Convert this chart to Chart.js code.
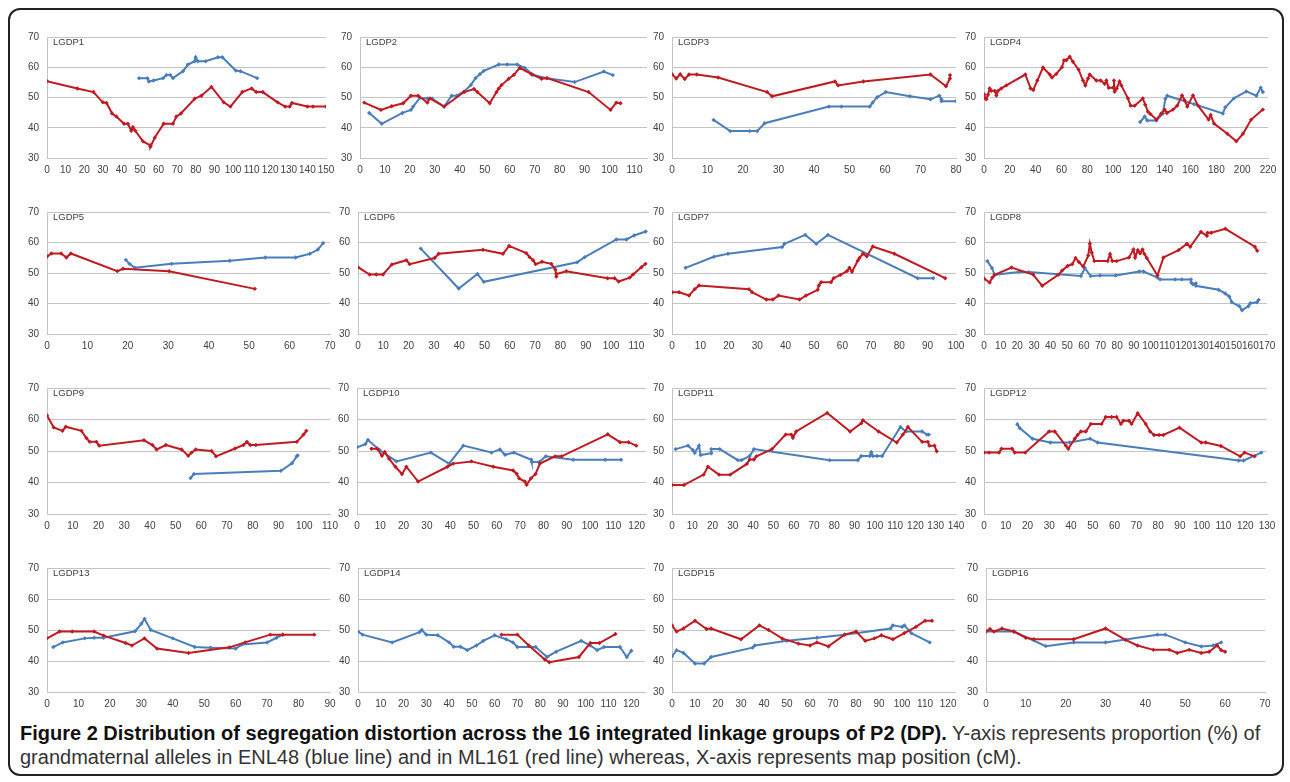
<!DOCTYPE html>
<html><head><meta charset="utf-8">
<script src="https://cdn.jsdelivr.net/npm/chart.js@4.4.0/dist/chart.umd.min.js"></script>
<style>
html,body{margin:0;padding:0;background:#fff;width:1290px;height:782px;overflow:hidden;}
#frame{position:absolute;left:8px;top:8px;width:1276px;height:768px;border:2px solid #222;border-radius:12px;box-sizing:border-box;}
.lbl{position:absolute;font:9.5px "Liberation Sans",Arial,sans-serif;color:#404040;white-space:nowrap;}
#cap{position:absolute;left:20px;top:721px;font:20px "Liberation Sans",Arial,sans-serif;color:#333;white-space:nowrap;line-height:24px;}
#cap b{color:#111;}
</style></head><body>
<div id="frame"></div>
<div id="cap"><b>Figure 2 Distribution of segregation distortion across the 16 integrated linkage groups of P2 (DP).</b> Y-axis represents proportion (%) of<br>grandmaternal alleles in ENL48 (blue line) and in ML161 (red line) whereas, X-axis represents map position (cM).</div>
<script>
// ---------- DATA ----------
const panelNames = ['LGDP1','LGDP2','LGDP3','LGDP4','LGDP5','LGDP6','LGDP7','LGDP8','LGDP9','LGDP10','LGDP11','LGDP12','LGDP13','LGDP14','LGDP15','LGDP16'];
const xMax = [150,115,80,220,70,115,100,170,110,124,140,130,90,126,123,70];
const xStep = [10,10,10,20,10,10,10,10,10,10,10,10,10,10,10,10];
const yTicks = [30,40,50,60,70];

const lg1Red = [[0,55.4],[16.3,53],[25,51.8],[30,48.4],[32,48.2],[35,44.7],[37.3,43.7],[41.4,41.3],[43.5,41.3],[45.3,39],[46.2,40.2],[47.5,39],[51.6,35.5],[55.6,34.2],[55.6,33.7],[57.9,36.7],[62.7,41.3],[67.7,41.3],[69.5,43.7],[72,44.7],[79.4,49.6],[83,50.6],[88.4,53.5],[95,48.4],[98.6,47],[105,51.8],[110,53],[112.5,51.8],[116,51.8],[124,48.4],[128,47],[130.5,47],[131.7,48.2],[140,47],[143,47],[150,47]];
const lg1Blue = [[49.5,56.4],[54,56.4],[54.8,55.3],[57.3,55.6],[62.4,56.4],[64.2,57.4],[66.3,57.4],[67.7,56.4],[73.1,58.7],[75.8,60.9],[79.4,62],[79.9,63.3],[81.1,62],[85.3,62],[91.9,63.3],[94.3,63.3],[101.5,58.9],[104,58.7],[113,56.4]];

const lg2Red = [[1.7,48.3],[8.4,45.9],[12.7,47.1],[17.3,48.1],[20.4,50.6],[23.3,50.6],[27,48.3],[28,49.7],[33.7,47],[41.7,51.8],[45.7,52.8],[47,51.8],[52,48.1],[54.7,51.8],[55.6,53],[56.7,54.1],[59.6,56.2],[61.7,57.5],[64,59.8],[68.7,57.7],[72.7,56.2],[75,56.4],[91.6,51.8],[100.4,45.9],[102.7,48.3],[104.4,48.1]];
const lg2Blue = [[3.7,44.9],[8.7,41.3],[17,44.9],[20.4,45.9],[21.3,47],[24,49.9],[27,49.7],[28.9,49.7],[33.7,47],[36.7,50.6],[38.7,50.6],[41.7,52],[44.4,54.1],[46.3,56.4],[48,57.7],[49.6,58.8],[55.6,60.9],[59,60.9],[63,60.9],[66,59.8],[69.3,57.5],[74.7,56.4],[86,55.1],[97.7,58.6],[101.3,57.4]];

const lg3Red = [[0,57.7],[1.2,56.3],[2.3,57.7],[3.6,56.1],[4.8,57.6],[7,57.6],[13,56.6],[26.8,51.8],[28.2,50.4],[45.9,55.3],[46.8,54],[53.9,55.3],[72.8,57.6],[77.2,53.7],[78.3,56.3],[78.3,57.4]];
const lg3Blue = [[11.7,42.6],[16.4,38.9],[21.9,38.9],[24,38.9],[26.1,41.5],[44.2,47],[47.7,47],[55.7,47],[56.5,48.3],[57.8,50.1],[60.2,51.8],[67,50.4],[72.8,49.4],[75.3,50.6],[75.9,49.4],[75.9,48.8],[80,48.8]];

const lg4Red = [[0,51.1],[0.5,49.9],[1.8,49.4],[3.1,50.9],[4.4,53],[5.7,52.2],[8.3,52.2],[9.6,50.7],[10.8,52.2],[13.4,53],[17.3,54],[32,57.6],[36.1,53],[38.2,52.5],[41.3,55.6],[45.7,59.9],[50.9,57.6],[52.7,56.6],[56,57.8],[60.4,60],[62,62.3],[63.8,62.3],[66.4,63.5],[68.9,61.8],[73.3,59.2],[76.7,55.6],[78.5,54],[80.6,56.3],[81.9,57.6],[87,55.6],[90.4,55.6],[93.5,54.5],[94.8,55.6],[96.6,53.2],[100,53.2],[100.7,55.6],[101.2,52],[102.8,53],[105,55.3],[106.4,54],[111.5,49.7],[113.6,47.3],[116.7,47.3],[123,49.7],[124.9,47.6],[127,45.3],[129,44.5],[133.5,42.7],[137.3,44.7],[139.9,46],[141.7,44.9],[146.4,46],[149.7,47.3],[153.4,50.7],[155.4,49.1],[157.5,47],[161.9,50.7],[165.8,47.3],[174,42.7],[175.6,44.2],[178.2,41.4],[188.5,38],[195.5,35.5],[200.6,38],[207,42.7],[216,46]];
const lg4Blue = [[121,41.9],[124.5,43.7],[126.5,42.4],[133.5,42.4],[138.6,44.7],[140.5,49.6],[142,50.6],[162.7,47.8],[185,44.7],[186.9,46.8],[193.6,49.7],[203.2,52],[211,50.6],[214.3,53.2],[216,51.8]];

const lg5Red = [[0,55.4],[1.1,56.4],[3.5,56.4],[4.8,55.1],[5.9,56.4],[17.4,50.6],[18.8,51.4],[30.2,50.6],[51.4,44.8]];
const lg5Blue = [[19.5,54.3],[20.4,53],[21.7,51.7],[30.8,53],[45.2,54],[54,55.1],[61.5,55.1],[65,56.3],[67,57.7],[68.3,59.8]];

const lg6Red = [[0,51.9],[4.6,49.5],[7.2,49.5],[9.9,49.5],[13.4,52.8],[19.1,54.2],[20.4,52.9],[30.3,54.9],[31.9,56.3],[49.4,57.6],[57.3,56.3],[59.7,58.9],[66.5,56.5],[67.8,55.2],[69.2,54.2],[70.2,52.9],[72.7,53.7],[76.4,53],[78,51.1],[78.4,48.8],[78.4,49.7],[82.3,50.6],[98.6,48.3],[101.4,48.3],[103,47.2],[107.4,48.5],[108.7,49.5],[112,51.9],[113.6,53]];
const lg6Blue = [[24.8,58],[39.8,44.9],[47.2,49.7],[49.7,47.1],[86.6,53.5],[89.6,55.2],[102.1,61],[106.1,61],[109.1,62.3],[113.7,63.6]];

const lg7Red = [[0,43.7],[2.5,43.7],[6,42.6],[8,44.7],[9.5,45.9],[27.1,44.7],[28.2,43.7],[33.2,41.3],[35.5,41.3],[37.5,42.6],[44.9,41.3],[47.2,42.6],[51.3,44.5],[51.7,45.9],[52.5,47],[56,47],[56.9,48.3],[59.3,49.4],[61.6,50.6],[62.5,51.7],[63.4,50.4],[65.4,54],[66,54.9],[67.2,56.3],[68.6,55.5],[70.7,58.7],[78.3,56.3],[96.2,48.3]];
const lg7Blue = [[4.8,51.7],[14.7,55.3],[19.7,56.3],[38.8,58.5],[39.6,59.6],[46.9,62.5],[50.8,59.6],[54.9,62.5],[86.5,48.3],[92,48.3]];

const lg8Red = [[0,48.2],[3.4,46.9],[5,48.5],[6.4,49.4],[16.5,51.8],[29.5,49.5],[35,45.8],[44.6,49.4],[47,50.8],[50.2,52.3],[53,52.9],[55,54.9],[57,53.6],[59.6,52.1],[62.6,55.7],[63.6,59.6],[64.7,56.7],[66.3,53.9],[74.3,53.9],[75.7,56.2],[77.1,53.9],[79.7,53.9],[87.1,55.1],[89.8,57.7],[90.8,55.1],[92.4,57.5],[93.8,56.5],[95.2,57.7],[96.4,56.2],[97.8,54.9],[104.2,49.2],[107.8,55.1],[116.9,57.5],[121.9,59.6],[123.9,58.6],[130.3,63.5],[133.9,62.2],[134.3,63.2],[136.5,63.2],[145,64.5],[162.7,58.6],[164.1,57.3]];
const lg8Blue = [[2,53.9],[4.8,51.6],[6.4,49.4],[20.9,50.3],[26.9,50.3],[58.2,49],[60.6,51.6],[64.1,49],[69.7,49.2],[79.1,49.2],[93.2,50.5],[95.8,50.5],[104.2,48.5],[105.8,47.9],[114.8,47.9],[118.9,47.9],[124.3,47.9],[124.5,46.9],[125.5,46.3],[127.3,46.6],[127.3,45.8],[140.9,44.5],[144.9,43.3],[147.3,42.3],[148.9,40.4],[153.4,39.1],[155,37.8],[158.8,39.1],[160,40.1],[164,40.4],[165,41.2]];

const lg9Red = [[0,61.3],[2.6,57.5],[6,56.4],[7.3,57.7],[13.4,56.4],[15.3,54.1],[16.6,52.9],[19.2,52.9],[20.3,51.7],[37.7,53.4],[41,51.9],[42.6,50.5],[46.2,51.9],[52.3,50.5],[54.9,48.5],[56.2,49.5],[57.8,50.5],[64,50],[65.7,48.3],[73.1,50.8],[76.4,51.9],[77.7,52.9],[79,51.9],[81.2,51.9],[97.1,52.9],[99.7,55.2],[100.8,56.4]];
const lg9Blue = [[55.8,41.4],[57.1,42.7],[90.9,43.7],[95.2,46.1],[97.1,48.3],[97.4,48.6]];

const lg10Red = [[6.2,50.7],[8.7,50.7],[10.7,48.5],[11.9,49.7],[13.8,47.5],[16.5,45],[19.3,42.7],[21.2,45],[26.2,40.3],[38.8,45],[41.3,46],[49.1,46.7],[58.5,45],[67,43.8],[68.5,42.8],[69.6,41.3],[72,40.3],[72.8,39.3],[74.6,41.3],[76.6,42.7],[78.5,46],[85,48.3],[87.8,48.3],[107.6,55.3],[112.9,52.8],[116.5,52.8],[119.8,51.7]];
const lg10Blue = [[0,51.2],[3.6,52.2],[4.7,53.5],[9.7,50.3],[16.9,46.7],[31.7,49.5],[39.5,46],[45.6,51.7],[57.7,49.5],[61.3,50.5],[63.5,48.8],[67.3,49.5],[74.8,47.2],[75,46.5],[78.2,46.5],[81,48.3],[92.8,47.2],[106.5,47.2],[113.3,47.2]];

const lg11Red = [[0,39.2],[5.9,39.2],[15.6,42.5],[17.7,45],[23.2,42.5],[28.7,42.5],[36.9,45.9],[38.3,47.3],[40.4,47.3],[41.6,48.3],[49.3,50.6],[56,55.2],[58.8,55.2],[59.6,54.2],[61.2,56.2],[76.5,62.1],[87.8,56.2],[93.3,58.8],[94.1,59.8],[101.8,56.2],[110.8,52.7],[113.8,55.2],[116.3,57.6],[123.3,52.9],[126.1,52.9],[126.9,51.7],[129.4,51.7],[130.5,49.9]];
const lg11Blue = [[1.8,50.6],[7.9,51.7],[10.3,50.3],[11.2,49.4],[13.3,51.7],[14.1,48.7],[19.4,49.3],[19.4,50.6],[23.5,50.6],[32.5,47.1],[34.2,47.1],[38.3,48.4],[40.4,50.6],[77.7,47.1],[91.6,47.1],[93.3,48.4],[97.4,48.4],[98.2,49.6],[99,48.4],[101,48.4],[103.6,48.4],[112.6,57.6],[115.4,56.2],[123.3,56.2],[125.6,55.2],[126.6,55.2]];

const lg12Red = [[0,49.5],[2.3,49.5],[6.9,49.5],[8,50.7],[12.9,50.7],[14.1,49.5],[19,49.5],[29.9,56.2],[32.5,56.2],[37.6,51.7],[38.7,50.7],[41.7,53.9],[43,55.1],[44.5,56.2],[46.8,56.2],[49.1,58.6],[54,58.6],[55.9,60.8],[58.6,60.8],[60.9,60.8],[62.9,58.6],[64,59.6],[66.6,59.6],[67.8,58.6],[70.6,62],[74.3,58.6],[76.3,56.2],[78.1,55.1],[80.4,55.1],[82.4,55.1],[89.8,57.4],[99.8,52.7],[101.9,52.7],[108.8,51.6],[117.7,48.3],[119.7,49.5],[124.3,48.3]];
const lg12Blue = [[15.3,58.5],[16.4,57.3],[22.3,53.9],[30.5,52.7],[39.4,52.7],[48.7,53.9],[52.2,52.7],[117,47],[119.3,47],[127.4,49.5]];

const lg13Red = [[0,47.3],[4,49.5],[8,49.5],[15,49.5],[18,48.2],[25,45.8],[27,45],[31,47.3],[35,44],[45,42.6],[58,44.4],[63,46],[71,48.5],[75,48.5],[85,48.5]];
const lg13Blue = [[2,44.5],[5,46],[12,47.3],[15,47.5],[18,47.5],[28,49.6],[30,52],[31,53.6],[33,50],[40,47.3],[47,44.5],[52,44.3],[60,44],[62,45.3],[70,46],[73,47.5],[75,48.5]];

const lg14Red = [[63,48.5],[70,48.5],[75,45],[82,40.5],[84,39.6],[97,41.3],[102,45.8],[106,45.8],[113,48.7]];
const lg14Blue = [[0,49.5],[2,48.5],[15,46],[27,49.3],[28,50],[30,48.5],[35,48.3],[40,46],[42,44.6],[45,44.6],[48,43.5],[52,45],[55,46.5],[60,48.3],[65,47],[68,46],[70,44.5],[78,44.5],[83,41.3],[87,43],[98,46.5],[102,45],[105,43.5],[108,44.5],[115,44.5],[118,41.3],[120,43.3]];

const lg15Red = [[0,51.5],[2,49.5],[5,50.5],[10,53],[15,50.3],[17,50.5],[30,47],[38,51.5],[42,50],[48,47.2],[55,45.6],[60,45],[63,46],[68,44.7],[75,48.5],[80,49.5],[84,46.5],[88,47.3],[91,48.3],[96,47],[101,49],[106,51],[110,53],[113,53]];
const lg15Blue = [[0,41.5],[2,43.5],[5,42.6],[10,39.2],[14,39.2],[17,41.3],[35,44.3],[36,45],[50,46.5],[63,47.5],[75,48.5],[95,50.5],[96,51.5],[100,51],[101,51.5],[104,49],[112,46]];

const lg16Red = [[0,49.5],[1,50.3],[2,49.5],[4,50.5],[7,49.5],[10,47.5],[12,47],[22,47],[30,50.5],[35,46.8],[38,45],[42,43.6],[46,43.6],[48,42.6],[51,43.6],[54,42.6],[56,43],[58,45],[59,43.5],[60,43]];
const lg16Blue = [[0,49.5],[7,49.5],[15,44.8],[22,46],[30,46],[43,48.5],[45,48.5],[50,46],[54,44.7],[57,45],[59,46]];

const redSeries = [lg1Red,lg2Red,lg3Red,lg4Red,lg5Red,lg6Red,lg7Red,lg8Red,lg9Red,lg10Red,lg11Red,lg12Red,lg13Red,lg14Red,lg15Red,lg16Red];
const blueSeries = [lg1Blue,lg2Blue,lg3Blue,lg4Blue,lg5Blue,lg6Blue,lg7Blue,lg8Blue,lg9Blue,lg10Blue,lg11Blue,lg12Blue,lg13Blue,lg14Blue,lg15Blue,lg16Blue];

// ---------- LAYOUT (plot-area pixel boxes: left, right, top(70), bottom(30)) ----------
const LAYOUT = [
 [47,326,31,158],[360,647,31,158],[672,956,31,158],[984,1268,31,158],
 [47,330,206,334],[358,649,206,334],[672,956,206,334],[984,1267,206,334],
 [47,330,382,514],[357,646,382,514],[672,956,382,514],[984,1267,382,514],
 [47,330,562,692],[358,645,562,692],[672,955,562,692],[986,1265,562,692]
];
const BLUE = '#4a7ebb', RED = '#bf1b22', GRID = '#c4c4c4', TXT = '#404040';
const FAMILY = '"Liberation Sans", Arial, sans-serif';
const PADL = 40, PADR = 16, PADT = 8, PADB = 24;

function ds(pts, col) {
  return {data: pts.map(p => ({x: p[0], y: p[1]})), borderColor: col, backgroundColor: col,
    showLine: true, borderWidth: 2, pointStyle: 'rectRot', pointRadius: 2.2, pointBorderWidth: 0, tension: 0};
}

for (let i = 0; i < 16; i++) {
  const [l, r, t, b] = LAYOUT[i];
  const W = r - l + PADL + PADR, H = b - t + PADT + PADB;
  const cv = document.createElement('canvas');
  cv.width = W; cv.height = H;
  cv.style.cssText = `position:absolute;left:${l - PADL}px;top:${t - PADT}px;width:${W}px;height:${H}px;`;
  document.body.appendChild(cv);
  const lab = document.createElement('div');
  lab.className = 'lbl';
  lab.textContent = panelNames[i];
  lab.style.left = (l + 6) + 'px';
  lab.style.top = (t + 5) + 'px';
  document.body.appendChild(lab);
  const step = xStep[i];
  new Chart(cv, {
    type: 'scatter',
    data: {datasets: [ds(redSeries[i], RED), ds(blueSeries[i], BLUE)]},
    options: {
      responsive: false, animation: false, events: [],
      layout: {padding: {top: PADT, right: PADR, left: 0, bottom: 0}},
      plugins: {legend: {display: false}, tooltip: {enabled: false}},
      scales: {
        x: {type: 'linear', min: 0, max: xMax[i],
          afterBuildTicks: s => { s.ticks = s.ticks.filter(tk => tk.value % step === 0); },
          afterFit: s => { s.height = PADB; },
          ticks: {stepSize: step, padding: 6, color: TXT, font: {size: 10, family: FAMILY}, maxRotation: 0, autoSkip: false, includeBounds: false},
          grid: {display: false, drawTicks: false},
          border: {display: true, color: GRID}},
        y: {type: 'linear', min: yTicks[0], max: yTicks[yTicks.length - 1],
          afterBuildTicks: s => { s.ticks = yTicks.map(v => ({value: v})); },
          afterFit: s => { s.width = PADL; },
          ticks: {stepSize: 10, padding: 8, color: TXT, font: {size: 10, family: FAMILY}},
          grid: {color: GRID, lineWidth: 1, drawTicks: false},
          border: {display: true, color: GRID}}
      }
    }
  });
}
</script>
</body></html>
